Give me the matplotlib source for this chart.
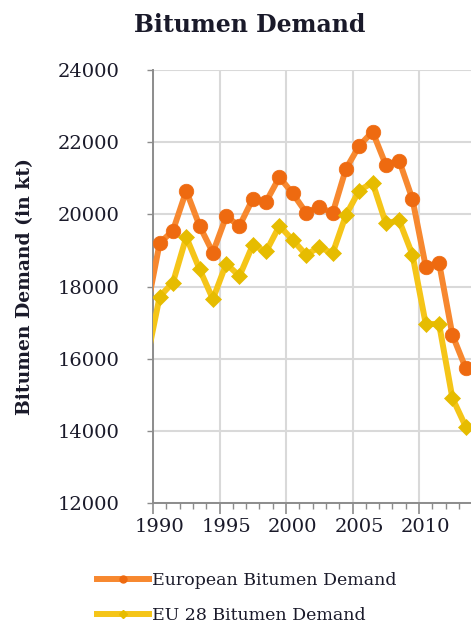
import matplotlib
matplotlib.use("Agg")
import matplotlib.pyplot as plt
from matplotlib.lines import Line2D
from matplotlib.ticker import FixedLocator, MultipleLocator

# ── data (kt); 1989 only shows as a clipped tail ──
years = list(range(1989, 2014))
european = [17300, 19200, 19550, 20650, 19680, 18940, 19940, 19680, 20430, 20350,
            21030, 20580, 20050, 20210, 20030, 21260, 21900, 22290, 21370, 21490,
            20420, 18550, 18660, 16660, 15740]
eu28 = [15900, 17720, 18110, 19370, 18480, 17650, 18630, 18290, 19150, 18970,
        19680, 19290, 18880, 19090, 18920, 19980, 20660, 20880, 19750, 19830,
        18880, 16960, 16960, 14910, 14120]
label_years = [1990, 1995, 2000, 2005, 2010]
y_ticks = [12000, 14000, 16000, 18000, 20000, 22000, 24000]

C = {"eu_line": "#F7882F", "eu_mark": "#EE6A10",
     "e28_line": "#F5C518", "e28_mark": "#E6BC00",
     "grid": "#D9D9D9", "axis": "#8C8C8C", "text": "#1A1A2A"}

plt.rcParams["font.family"] = "DejaVu Serif"

W, H = 471, 628
fig = plt.figure(figsize=(W / 100, H / 100), dpi=100)
x0, x1, y_top, y_bot = 153, 471, 70, 503
ax = fig.add_axes([x0 / W, 1 - y_bot / H, (x1 - x0) / W, (y_bot - y_top) / H])

# markers only from 1990 on; the 1989 point just feeds the clipped line stub
ax.plot(years, european, color=C["eu_line"], lw=4.3, marker="o", ms=10.5,
        mfc=C["eu_mark"], mec=C["eu_mark"], mew=0.5, markevery=slice(1, None),
        zorder=3)
ax.plot(years, eu28, color=C["e28_line"], lw=4.3, marker="D", ms=8.5,
        mfc=C["e28_mark"], mec=C["e28_mark"], mew=0.5, markevery=slice(1, None),
        zorder=3)

# category-style x axis: gridlines between categories every 5 years
ax.set_xlim(1989.5, 2013.4)
ax.xaxis.set_major_locator(FixedLocator([1989.5 + 5 * k for k in range(6)]))
ax.xaxis.set_minor_locator(MultipleLocator(1, offset=0.5))
ax.tick_params(axis="x", which="major", length=8, width=1.2, color=C["axis"],
               labelbottom=False)
ax.tick_params(axis="x", which="minor", length=4, width=1.0, color=C["axis"])
for yr in label_years:
    ax.text(yr, -0.035, str(yr), transform=ax.get_xaxis_transform(),
            ha="center", va="top", fontsize=14, color=C["text"])

ax.set_ylim(12000, 24000)
ax.set_yticks(y_ticks)
ax.tick_params(axis="y", length=4, width=1.0, color=C["axis"], pad=20,
               labelsize=14, labelcolor=C["text"])

ax.grid(True, which="major", color=C["grid"], lw=1.5)
ax.set_axisbelow(True)
for s in ["top", "right"]:
    ax.spines[s].set_visible(False)
for s in ["left", "bottom"]:
    ax.spines[s].set_color(C["axis"])
    ax.spines[s].set_linewidth(1.4)

fig.text(250 / W, 1 - 25 / H, "Bitumen Demand", ha="center", va="center",
         fontsize=17, fontweight="bold", color=C["text"])
fig.text(25 / W, 1 - 287 / H, "Bitumen Demand (in kt)", rotation=90,
         ha="center", va="center", fontsize=13.5, fontweight="bold", color=C["text"])

handles = [Line2D([], [], color=C["eu_line"], lw=4.3, marker="o", ms=5,
                  mfc=C["eu_mark"], mec=C["eu_mark"]),
           Line2D([], [], color=C["e28_line"], lw=4.3, marker="D", ms=4,
                  mfc=C["e28_mark"], mec=C["e28_mark"])]
fig.legend(handles, ["European Bitumen Demand", "EU 28 Bitumen Demand"],
           loc="center left", bbox_to_anchor=(97 / W, 1 - 598 / H),
           frameon=False, handlelength=3.0, handletextpad=0.15,
           labelspacing=1.0, borderpad=0, borderaxespad=0, fontsize=12.5,
           labelcolor=C["text"])

fig.savefig("out.png", dpi=100)
